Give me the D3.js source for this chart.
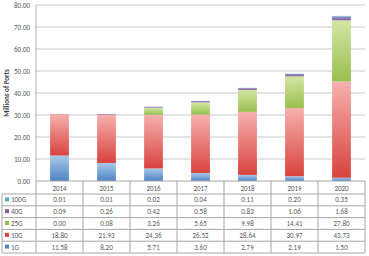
<!DOCTYPE html>
<html>
<head>
<meta charset="utf-8">
<script src="https://cdn.jsdelivr.net/npm/d3@7"></script>
<style>
  body { margin: 0; background: #fff; }
  text { font-family: Calibri, "Liberation Sans", Arial, sans-serif; }
</style>
</head>
<body>
<div id="chart"></div>
<script>
var years = ["2014", "2015", "2016", "2017", "2018", "2019", "2020"];
var seriesNames = ["100G", "40G", "25G", "10G", "1G"];
var g1 = [11.58, 8.20, 5.71, 3.60, 2.79, 2.19, 1.50];
var g10 = [18.80, 21.93, 24.36, 26.52, 28.64, 30.97, 43.73];
var g25 = [0.00, 0.08, 3.26, 5.65, 9.98, 14.41, 27.80];
var g40 = [0.09, 0.26, 0.42, 0.58, 0.83, 1.06, 1.68];
var g100 = [0.01, 0.01, 0.02, 0.04, 0.11, 0.20, 0.35];
var yTicks = [0, 10, 20, 30, 40, 50, 60, 70, 80];

var width = 369, height = 256;
var plotLeft = 36, plotRight = 365, plotTop = 5, plotBottom = 181;
var rowH = 11.8;

var svg = d3.select("#chart").append("svg")
    .attr("width", width)
    .attr("height", height);

// stack order bottom to top
var stackOrder = [
  {name: "1G", values: g1, light: "#a9c8ea", dark: "#4d83c4"},
  {name: "10G", values: g10, light: "#f6b0ae", dark: "#d8433d"},
  {name: "25G", values: g25, light: "#d3e6a4", dark: "#98bf4e"},
  {name: "40G", values: g40, light: "#a28fc0", dark: "#7a62a0"},
  {name: "100G", values: g100, light: "#8fd3e6", dark: "#4bacc6"}
];
var byName = {};
stackOrder.forEach(function(s) { byName[s.name] = s; });

var defs = svg.append("defs");
stackOrder.forEach(function(s, i) {
  var grad = defs.append("linearGradient")
      .attr("id", "grad" + i)
      .attr("x1", 0).attr("y1", 0).attr("x2", 0).attr("y2", 1);
  grad.append("stop").attr("offset", "0%").attr("stop-color", s.light);
  grad.append("stop").attr("offset", "100%").attr("stop-color", s.dark);
});

var x = d3.scaleBand()
    .domain(years)
    .range([plotLeft, plotRight])
    .paddingInner(0.6)
    .paddingOuter(0.3);

var y = d3.scaleLinear()
    .domain([0, 80])
    .range([plotBottom, plotTop]);

// gridlines
svg.append("g").selectAll("line")
    .data(yTicks.slice(1))
    .enter().append("line")
    .attr("x1", plotLeft).attr("x2", plotRight)
    .attr("y1", function(d) { return y(d); })
    .attr("y2", function(d) { return y(d); })
    .attr("stroke", "#c8c8c8")
    .attr("stroke-width", 1);

// y tick labels
svg.append("g").selectAll("text")
    .data(yTicks)
    .enter().append("text")
    .attr("x", plotLeft - 6)
    .attr("y", function(d) { return y(d) + 2.5; })
    .attr("text-anchor", "end")
    .attr("font-size", 7)
    .attr("fill", "#595959")
    .text(function(d) { return d.toFixed(2); });

// axis title
svg.append("text")
    .attr("transform", "translate(9," + y(40) + ") rotate(-90)")
    .attr("text-anchor", "middle")
    .attr("font-size", 7)
    .attr("font-weight", "bold")
    .attr("fill", "#404040")
    .text("Millions of Ports");

// stacked bars
var rows = years.map(function(yr, i) {
  var r = {year: yr};
  stackOrder.forEach(function(s) { r[s.name] = s.values[i]; });
  return r;
});
var stacked = d3.stack().keys(stackOrder.map(function(s) { return s.name; }))(rows);

svg.append("g").selectAll("g")
    .data(stacked)
    .enter().append("g")
    .attr("fill", function(d, i) { return "url(#grad" + i + ")"; })
    .selectAll("rect")
    .data(function(d) { return d; })
    .enter().append("rect")
    .attr("x", function(d) { return x(d.data.year); })
    .attr("width", x.bandwidth())
    .attr("y", function(d) { return y(d[1]); })
    .attr("height", function(d) { return Math.max(0, y(d[0]) - y(d[1])); });

// y axis line
svg.append("line")
    .attr("x1", plotLeft).attr("x2", plotLeft)
    .attr("y1", plotTop).attr("y2", plotBottom)
    .attr("stroke", "#b0b0b0");

// data table
var table = svg.append("g");
var step = x.step();
var colEdges = years.map(function(yr) { return x(yr) - (step - x.bandwidth()) / 2; });
colEdges.push(plotRight);
var headerBottom = plotBottom + 13;
var tableBottom = headerBottom + rowH * seriesNames.length;
var lineColor = "#a6a6a6";

// horizontal lines
table.append("line")
    .attr("x1", plotLeft).attr("x2", plotRight)
    .attr("y1", plotBottom).attr("y2", plotBottom)
    .attr("stroke", lineColor);
d3.range(seriesNames.length + 1).forEach(function(k) {
  table.append("line")
      .attr("x1", 2).attr("x2", plotRight)
      .attr("y1", headerBottom + k * rowH).attr("y2", headerBottom + k * rowH)
      .attr("stroke", lineColor);
});
// vertical lines
colEdges.forEach(function(cx) {
  table.append("line")
      .attr("x1", cx).attr("x2", cx)
      .attr("y1", plotBottom).attr("y2", tableBottom)
      .attr("stroke", lineColor);
});
table.append("line")
    .attr("x1", 2).attr("x2", 2)
    .attr("y1", headerBottom).attr("y2", tableBottom)
    .attr("stroke", lineColor);

// year headers
table.selectAll("text.year")
    .data(years)
    .enter().append("text")
    .attr("class", "year")
    .attr("x", function(d) { return x(d) + x.bandwidth() / 2; })
    .attr("y", plotBottom + 9.5)
    .attr("text-anchor", "middle")
    .attr("font-size", 7)
    .attr("fill", "#595959")
    .text(function(d) { return d; });

// rows
seriesNames.forEach(function(name, r) {
  var s = byName[name];
  var cy = headerBottom + r * rowH + rowH / 2;
  table.append("rect")
      .attr("x", 5).attr("y", cy - 2.5)
      .attr("width", 4).attr("height", 4)
      .attr("fill", s.dark);
  table.append("text")
      .attr("x", 11).attr("y", cy + 2.5)
      .attr("font-size", 7)
      .attr("fill", "#595959")
      .text(name);
  table.selectAll("text.v" + r)
      .data(s.values)
      .enter().append("text")
      .attr("x", function(d, i) { return x(years[i]) + x.bandwidth() / 2; })
      .attr("y", cy + 2.5)
      .attr("text-anchor", "middle")
      .attr("font-size", 7)
      .attr("fill", "#595959")
      .text(function(d) { return d.toFixed(2); });
});
</script>
</body>
</html>
